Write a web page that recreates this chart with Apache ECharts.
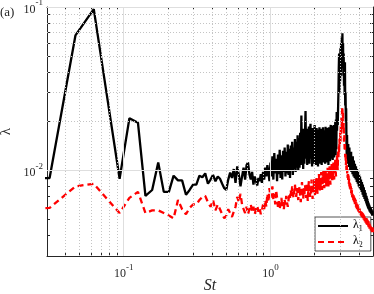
<!DOCTYPE html>
<html><head><meta charset="utf-8">
<script src="https://cdn.jsdelivr.net/npm/echarts@6/dist/echarts.min.js"></script>
<style>html,body{margin:0;padding:0;background:#fff}#c{width:374px;height:294px}</style>
</head><body><div id="c"></div>
<script>
// Strouhal-number bins: uniform spectral resolution
const stStep = 0.015625;
const lambda1 = [
0.0088,0.0090,0.0670,0.0970,0.0260,0.0089,0.0209,0.0196,0.0070,0.0076,
0.0112,0.0074,0.0074,0.0093,0.0087,0.0087,0.0071,0.0076,0.0082,0.0082,
0.0093,0.0091,0.0096,0.0083,0.0088,0.0094,0.0086,0.0092,0.0089,0.0083,
0.0078,0.0076,0.0088,0.0097,0.0090,0.0102,0.0084,0.0106,0.0094,0.0080,
0.0092,0.0104,0.0088,0.0108,0.0112,0.0095,0.0088,0.0098,0.0082,0.0092,
0.0086,0.0081,0.0090,0.0086,0.0095,0.0084,0.0098,0.0088,0.0104,0.0092,
0.0108,0.0097,0.0086,0.0112,0.0092,0.0122,0.0088,0.0128,0.0096,0.0118,
0.0086,0.0125,0.0095,0.0134,0.0090,0.0124,0.0088,0.0132,0.0098,0.0138,
0.0092,0.0130,0.0096,0.0144,0.0094,0.0136,0.0090,0.0142,0.0100,0.0150,
0.0094,0.0138,0.0102,0.0156,0.0098,0.0150,0.0104,0.0164,0.0100,0.0158,
0.0104,0.0170,0.0108,0.0217,0.0112,0.0175,0.0102,0.0180,0.0110,0.0165,
0.0231,0.0118,0.0180,0.0108,0.0176,0.0115,0.0186,0.0110,0.0172,0.0193,
0.0118,0.0178,0.0106,0.0182,0.0116,0.0172,0.0110,0.0190,0.0120,0.0176,
0.0108,0.0182,0.0114,0.0172,0.0106,0.0178,0.0116,0.0184,0.0110,0.0174,
0.0114,0.0180,0.0108,0.0170,0.0118,0.0184,0.0112,0.0176,0.0120,0.0172,
0.0110,0.0185,0.0116,0.0178,0.0112,0.0182,0.0118,0.0172,0.0108,0.0184,
0.0120,0.0176,0.0114,0.0180,0.0190,0.0118,0.0184,0.0122,0.0188,0.0116,
0.0186,0.0126,0.0190,0.0120,0.0188,0.0128,0.0198,0.0124,0.0205,0.0135,
0.0228,0.0175,0.0215,0.0190,0.0240,0.0300,0.0420,0.0520,0.0300,0.0480,
0.0350,0.0560,0.0380,0.0600,0.0420,0.0650,0.0480,0.0690,0.0450,0.0600,
0.0380,0.0520,0.0330,0.0460,0.0290,0.0460,0.0250,0.0300,0.0200,0.0240,
0.0150,0.0118,0.0165,0.0125,0.0140,0.0110,0.0145,0.0115,0.0132,0.0105,
0.0138,0.0112,0.0128,0.0100,0.0125,0.0108,0.0130,0.0098,0.0120,0.0104,
0.0118,0.0095,0.0122,0.0100,0.0112,0.0092,0.0115,0.0096,0.0108,0.0090,
0.0110,0.0094,0.0104,0.0088,0.0106,0.0090,0.0100,0.0085,0.0102,0.0087,
0.0097,0.0083,0.0098,0.0084,0.0094,0.0080,0.0095,0.0082,0.0090,0.0078,
0.0092,0.0079,0.0087,0.0076,0.0088,0.0077,0.0084,0.0074,0.0085,0.0074,
0.0081,0.0071,0.0082,0.0072,0.0078,0.0069,0.0079,0.0070,0.0075,0.0067,
0.0076,0.0067,0.0073,0.0065,0.0073,0.0065,0.0070,0.0063,0.0070,0.0062,
0.0068,0.0061,0.0067,0.0060,0.0065,0.0059,0.0064,0.0058,0.0063,0.0058,
0.0062,0.0057,0.0061,0.0056,0.0060,0.0056,0.0059,0.0055,0.0059,0.0055,
0.0058,0.0054,0.0058,0.0054,0.0057,0.0053,0.0057,0.0053,0.0056,0.0055
];
const lambda2 = [
0.0058,0.0059,0.0080,0.0083,0.0066,0.0055,0.0068,0.0074,0.0055,0.0057,
0.0057,0.0055,0.0053,0.0051,0.0066,0.0058,0.0054,0.0059,0.0062,0.0062,
0.0066,0.0069,0.0070,0.0064,0.0060,0.0066,0.0057,0.0062,0.0058,0.0054,
0.0051,0.0053,0.0058,0.0055,0.0052,0.0056,0.0060,0.0069,0.0064,0.0072,
0.0062,0.0058,0.0055,0.0060,0.0054,0.0058,0.0062,0.0056,0.0060,0.0054,
0.0058,0.0061,0.0056,0.0059,0.0054,0.0057,0.0062,0.0058,0.0066,0.0060,
0.0072,0.0064,0.0078,0.0068,0.0074,0.0080,0.0066,0.0072,0.0062,0.0076,
0.0068,0.0060,0.0065,0.0058,0.0063,0.0068,0.0060,0.0064,0.0058,0.0066,
0.0062,0.0070,0.0064,0.0060,0.0066,0.0072,0.0068,0.0076,0.0070,0.0080,
0.0072,0.0068,0.0075,0.0082,0.0074,0.0069,0.0078,0.0072,0.0066,0.0074,
0.0080,0.0070,0.0064,0.0076,0.0085,0.0072,0.0067,0.0078,0.0070,0.0082,
0.0075,0.0068,0.0084,0.0072,0.0065,0.0079,0.0086,0.0074,0.0069,0.0080,
0.0072,0.0088,0.0076,0.0067,0.0082,0.0074,0.0090,0.0078,0.0070,0.0085,
0.0078,0.0092,0.0080,0.0072,0.0088,0.0079,0.0095,0.0083,0.0074,0.0090,
0.0081,0.0098,0.0085,0.0076,0.0092,0.0083,0.0100,0.0087,0.0078,0.0094,
0.0084,0.0102,0.0088,0.0079,0.0096,0.0086,0.0104,0.0090,0.0080,0.0098,
0.0088,0.0106,0.0092,0.0082,0.0100,0.0090,0.0110,0.0094,0.0085,0.0104,
0.0092,0.0112,0.0096,0.0088,0.0108,0.0098,0.0118,0.0102,0.0092,0.0115,
0.0105,0.0125,0.0110,0.0100,0.0130,0.0120,0.0140,0.0128,0.0155,0.0140,
0.0170,0.0150,0.0190,0.0165,0.0210,0.0180,0.0230,0.0245,0.0200,0.0225,
0.0175,0.0195,0.0150,0.0165,0.0135,0.0145,0.0120,0.0128,0.0108,0.0115,
0.0100,0.0108,0.0095,0.0102,0.0090,0.0097,0.0086,0.0093,0.0083,0.0089,
0.0080,0.0086,0.0077,0.0083,0.0075,0.0080,0.0073,0.0078,0.0071,0.0076,
0.0069,0.0074,0.0068,0.0072,0.0066,0.0071,0.0065,0.0069,0.0064,0.0068,
0.0062,0.0067,0.0061,0.0066,0.0060,0.0064,0.0059,0.0063,0.0058,0.0062,
0.0058,0.0062,0.0057,0.0061,0.0056,0.0060,0.0056,0.0059,0.0055,0.0059,
0.0054,0.0058,0.0054,0.0057,0.0053,0.0057,0.0053,0.0056,0.0052,0.0056,
0.0052,0.0055,0.0051,0.0055,0.0051,0.0054,0.0050,0.0054,0.0050,0.0053,
0.0049,0.0053,0.0049,0.0052,0.0048,0.0052,0.0048,0.0051,0.0047,0.0051,
0.0047,0.0050,0.0046,0.0050,0.0046,0.0049,0.0045,0.0049,0.0045,0.0048,
0.0045,0.0048,0.0044,0.0048,0.0044,0.0047,0.0044,0.0047,0.0043,0.0046,
0.0043,0.0046,0.0043,0.0046,0.0042,0.0045,0.0043,0.0045,0.0042,0.0044
];
const xMajorTicks = [0.1, 1];
const xMinorTicks = [0.04,0.05,0.06,0.07,0.08,0.09,0.2,0.3,0.4,0.5,0.6,0.7,0.8,0.9,2,3,4];
const yMajorTicks = [0.01, 0.1];
const yMinorTicks = [0.004,0.005,0.006,0.007,0.008,0.009,0.02,0.03,0.04,0.05,0.06,0.07,0.08,0.09];
const seriesNames = ['λ1', 'λ2'];

const St = lambda1.map((_, i) => (i + 1) * stStep);
const d1 = St.map((s, i) => [s, lambda1[i]]);
const d2 = St.map((s, i) => [s, lambda2[i]]);

const FONT = 'Liberation Serif';
const AX = '#262626';
const isDecade = v => Math.abs(Math.log10(v) - Math.round(Math.log10(v))) < 1e-6;
const powLabel = v => isDecade(v) ? '{b|10}{s|' + Math.round(Math.log10(v)) + '}' : '';
const rich = {
  b: { fontFamily: FONT, fontSize: 12, color: AX, verticalAlign: 'bottom', lineHeight: 17 },
  s: { fontFamily: FONT, fontSize: 9, color: AX, verticalAlign: 'top', lineHeight: 17 }
};
const allX = xMajorTicks.concat(xMinorTicks), allY = yMajorTicks.concat(yMinorTicks);
const tickStyle = { show: true, inside: true, length: 3, lineStyle: { color: AX, width: 1 } };

function xAx(pos, main) {
  return {
    type: 'log', logBase: 10, min: 0.03, max: 5, position: pos,
    axisLine: { show: true, lineStyle: { color: AX, width: 1 } },
    axisTick: Object.assign({ customValues: allX }, tickStyle),
    axisLabel: main ? { show: true, margin: 7, formatter: powLabel, rich: rich, customValues: xMajorTicks } : { show: false },
    splitLine: { show: false },
    name: main ? 'St' : '', nameLocation: 'middle', nameGap: 22, nameMoveOverlap: false,
    nameTextStyle: { fontFamily: FONT, fontStyle: 'italic', fontSize: 16, color: AX }
  };
}
function yAx(pos, main) {
  return {
    type: 'log', logBase: 10, min: 0.003, max: 0.1, position: pos,
    axisLine: { show: true, lineStyle: { color: AX, width: 1 } },
    axisTick: Object.assign({ customValues: allY }, tickStyle),
    axisLabel: main ? { show: true, margin: 4, formatter: powLabel, rich: rich, customValues: yMajorTicks } : { show: false },
    splitLine: { show: false },
    name: main ? 'λ' : '', nameLocation: 'middle', nameGap: 33, nameRotate: 90, nameMoveOverlap: false,
    nameTextStyle: { fontFamily: FONT, fontSize: 15, color: AX }
  };
}

const minorLines = xMinorTicks.map(v => ({ xAxis: v })).concat(yMinorTicks.map(v => ({ yAxis: v })));
const majorLines = xMajorTicks.map(v => ({ xAxis: v })).concat(yMajorTicks.map(v => ({ yAxis: v })));

const chart = echarts.init(document.getElementById('c'), null, { renderer: 'canvas' });
chart.setOption({
  animation: false,
  backgroundColor: '#fff',
  grid: { left: 47, top: 7, right: 1, bottom: 38, containLabel: false, outerBoundsMode: 'none' },
  xAxis: [xAx('bottom', true), xAx('top', false)],
  yAxis: [yAx('left', true), yAx('right', false)],
  legend: {
    data: seriesNames, orient: 'vertical', left: 315, top: 217,
    backgroundColor: '#fff', borderColor: AX, borderWidth: 0.8, borderRadius: 0,
    padding: [2, 8, 2, 2], itemGap: 2, itemWidth: 30, itemHeight: 12,
    itemStyle: { opacity: 0 },
    formatter: n => '{a|λ}{s|' + n.slice(1) + '}',
    textStyle: { rich: {
      a: { fontFamily: FONT, fontSize: 12, color: '#000', verticalAlign: 'top', lineHeight: 14 },
      s: { fontFamily: FONT, fontSize: 8, color: '#000', verticalAlign: 'bottom', lineHeight: 14 }
    } }
  },
  graphic: [{ type: 'text', left: 0, top: 6, style: { text: '(a)', font: '13px "Liberation Serif"', fill: AX } }],
  series: [
    { type: 'line', name: 'minorGrid', data: [], silent: true, z: 1,
      markLine: { silent: true, symbol: 'none', label: { show: false },
        lineStyle: { type: [1, 2], color: '#c4c4c4', width: 1 }, data: minorLines } },
    { type: 'line', name: 'majorGrid', data: [], silent: true, z: 1,
      markLine: { silent: true, symbol: 'none', label: { show: false },
        lineStyle: { type: 'solid', color: '#dedede', width: 1 }, data: majorLines } },
    { type: 'line', name: seriesNames[0], data: d1, symbol: 'none', showSymbol: false,
      lineStyle: { color: '#000', width: 2.3 }, itemStyle: { color: '#000' }, z: 3 },
    { type: 'line', name: seriesNames[1], data: d2, symbol: 'none', showSymbol: false,
      lineStyle: { color: '#ff0000', width: 2.3, type: [6, 4] }, itemStyle: { color: '#ff0000' }, z: 4 }
  ]
});
</script></body></html>
